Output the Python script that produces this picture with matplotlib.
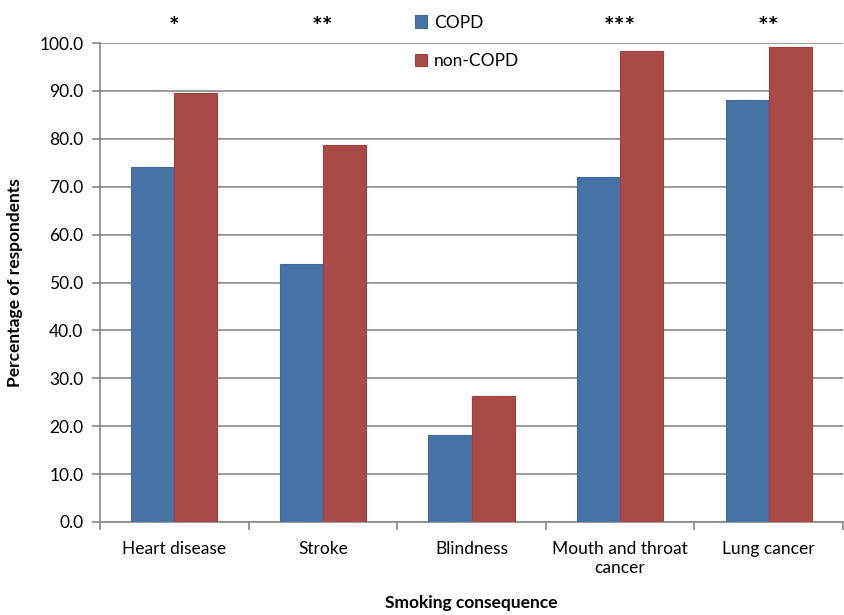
import numpy as np
import matplotlib.pyplot as plt
from matplotlib.ticker import FixedLocator

plt.rcParams['font.family'] = ['Lato', 'DejaVu Sans']

categories = ['Heart disease', 'Stroke', 'Blindness', 'Mouth and throat\ncancer', 'Lung cancer']
copd = [74.1, 53.8, 18.1, 72.0, 88.0]
non_copd = [89.6, 78.8, 26.3, 98.3, 99.2]
stars = ['*', '**', '', '***', '**']

x = np.arange(len(categories))
w = 0.29

fig = plt.figure(figsize=(8.44, 6.15), dpi=100)
ax = fig.add_axes([100/844, 1-522/615, 743/844, 479/615])

ax.bar(x - w/2, copd, w, color='#4672a6', edgecolor='#3d6aa0', linewidth=0.8, label='COPD', zorder=3)
ax.bar(x + w/2, non_copd, w, color='#a84a45', edgecolor='#a3403c', linewidth=0.8, label='non-COPD', zorder=3)

ax.set_xlim(-0.5, len(categories) - 0.5)
ax.set_ylim(0, 100)
ax.set_yticks(np.arange(0, 101, 10))
ax.set_yticklabels(['%.1f' % v for v in np.arange(0, 101, 10)], fontsize=12.5)
ax.set_xticks(x)
ax.set_xticklabels(categories, fontsize=12.5)
ax.tick_params(axis='x', length=0, pad=14)
ax.xaxis.set_minor_locator(FixedLocator(np.arange(-0.5, len(categories), 1)))
ax.tick_params(axis='x', which='minor', length=6, color='#888888', width=1.2)
ax.tick_params(axis='y', length=6, color='#888888', width=1.2, pad=6)
ax.grid(axis='y', color='#8a8a8a', linewidth=1.2, zorder=0)

for s in ['top', 'right']:
    ax.spines[s].set_visible(False)
for s in ['left', 'bottom']:
    ax.spines[s].set_color('#888888')
    ax.spines[s].set_linewidth(1.2)

for i, s in enumerate(stars):
    if s:
        ax.text(x[i], 103.2, s, ha='center', va='center', fontsize=18, fontweight='bold', clip_on=False)

ax.set_ylabel('Percentage of respondents', fontsize=12.5, fontweight='bold', labelpad=12)
ax.set_xlabel('Smoking consequence', fontsize=12.5, fontweight='bold', labelpad=14)

ax.legend(loc='upper left', bbox_to_anchor=(0.403, 1.092), frameon=False, fontsize=12.5,
          handlelength=0.7, handleheight=0.7, labelspacing=1.3, handletextpad=0.4)

fig.savefig('out.png', dpi=100)
